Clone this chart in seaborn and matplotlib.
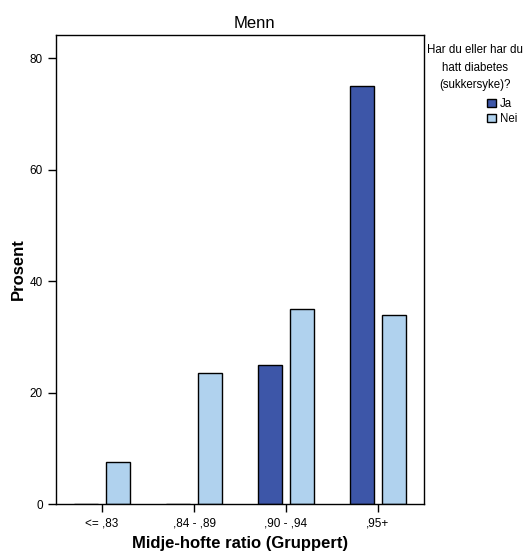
import pandas as pd
import matplotlib.pyplot as plt
import seaborn as sns

# Data (percent)
categories = ["<= ,83", ",84 - ,89", ",90 - ,94", ",95+"]
ja_values = [0.0, 0.0, 25.0, 75.0]
nei_values = [7.6, 23.5, 35.0, 33.9]
groups = ["Ja", "Nei"]
colors = {"Ja": "#3d56a8", "Nei": "#b0d2ee"}

df = pd.DataFrame({
    "Midje-hofte ratio": categories * 2,
    "Prosent": ja_values + nei_values,
    "Diabetes": [groups[0]] * 4 + [groups[1]] * 4,
})

sns.set_style("white")
plt.rcParams["font.family"] = ["Liberation Sans", "DejaVu Sans"]
plt.rcParams["text.color"] = "black"
plt.rcParams["axes.labelcolor"] = "black"

fig = plt.figure(figsize=(5.31, 5.53), dpi=100)
ax = fig.add_axes([0.1055, 0.0886, 0.693, 0.848])

sns.barplot(data=df, x="Midje-hofte ratio", y="Prosent", hue="Diabetes",
            order=categories, hue_order=groups, palette=colors,
            width=0.7, gap=0.25, edgecolor="black", linewidth=1,
            saturation=1, ax=ax, legend=True)

ax.set_xlim(-0.5, 3.5)
ax.set_ylim(0, 84.2)
ax.set_yticks([0, 20, 40, 60, 80])
ax.set_title("Menn", fontsize=12, pad=5, color="black", x=0.538)
ax.set_xlabel("Midje-hofte ratio (Gruppert)", fontsize=12, fontweight="bold", labelpad=5)
ax.set_ylabel("Prosent", fontsize=12, fontweight="bold", labelpad=3)
ax.tick_params(axis="both", direction="out", length=6, width=1, colors="black",
               labelsize=8.5, bottom=True, left=True)
for s in ax.spines.values():
    s.set_visible(True)
    s.set_color("black")
    s.set_linewidth(1)

# legend: centred title, entries below
handles, labels = ax.get_legend_handles_labels()
ax.get_legend().remove()
fig.text(0.8945, 0.921, "Har du eller har du\nhatt diabetes\n(sukkersyke)?",
         ha="center", va="top", fontsize=8.3, linespacing=1.65, multialignment="center")
fig.legend(handles, labels, loc="upper left", bbox_to_anchor=(0.918, 0.823),
           frameon=False, fontsize=8.3, handlelength=0.7, handleheight=0.7,
           handletextpad=0.35, labelspacing=0.3, borderpad=0, borderaxespad=0)

fig.savefig("out.png", dpi=100)
plt.close()
